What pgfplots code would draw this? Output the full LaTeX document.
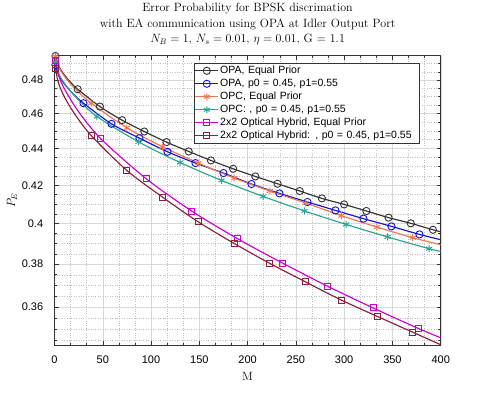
\documentclass[border=0pt]{standalone}
\usepackage{fontspec}
\usepackage{pgfplots}
\pgfplotsset{compat=1.18}
\newfontfamily\arialf{Liberation Sans}

\definecolor{cOPA}{RGB}{51,51,51}
\definecolor{cOPAp}{RGB}{20,20,205}
\definecolor{cOPC}{RGB}{240,120,80}
\definecolor{cOPCp}{RGB}{45,165,145}
\definecolor{cHyb}{RGB}{204,0,204}
\definecolor{cHybp}{RGB}{140,30,64}

\tikzset{
  sOPA/.style={color=cOPA, line width=1.15pt, mark=o, mark size=3.6pt, mark options={solid, line width=0.9pt}},
  sOPAp/.style={color=cOPAp, line width=1.15pt, mark=o, mark size=3.6pt, mark options={solid, line width=0.9pt}},
  sOPC/.style={color=cOPC, line width=1.15pt, mark=asterisk, mark size=3.5pt, mark options={solid, line width=1pt}},
  sOPCp/.style={color=cOPCp, line width=1.15pt, mark=asterisk, mark size=3.5pt, mark options={solid, line width=1pt}},
  sHyb/.style={color=cHyb, line width=1.15pt, mark=square, mark size=3pt, mark options={solid, line width=0.9pt}},
  sHybp/.style={color=cHybp, line width=1.15pt, mark=square, mark size=3pt, mark options={solid, line width=0.9pt}},
}

\begin{document}
\begin{tikzpicture}
\useasboundingbox (0,0) rectangle (479pt,394pt);
\begin{axis}[
  at={(54.5pt,49pt)}, anchor=south west,
  scale only axis, width=386.2pt, height=289.5pt,
  xmin=0, xmax=400, ymode=log, ymin=0.3430, ymax=0.4951,
  xtick={0,50,...,400}, minor x tick num=2,
  ytick={0.36,0.38,0.4,0.42,0.44,0.46,0.48},
  yticklabels={0.36,0.38,0.4,0.42,0.44,0.46,0.48},
  minor ytick={0.345,0.35,0.355,0.365,0.37,0.375,0.385,0.39,0.395,0.405,0.41,0.415,0.425,0.43,0.435,0.445,0.45,0.455,0.465,0.47,0.475,0.485,0.49},
  /pgf/number format/assume math mode=true,
  tick label style={font=\arialf\fontsize{11}{13}\selectfont},
  xticklabel style={yshift=-7.3pt},
  yticklabel style={xshift=-7.8pt},
  tick align=inside, major tick length=4pt, minor tick length=2.5pt,
  tick style={draw=black!80, line width=0.5pt},
  axis line style={draw=black!80, line width=0.5pt},
  grid=both,
  major grid style={draw=black!15, line width=0.4pt},
  minor grid style={draw=black!25, dotted, line width=0.4pt},
  title={Error Probability for BPSK discrimation\\with EA communication using OPA at Idler Output Port\\$N_B = 1$, $N_s = 0.01$, $\eta = 0.01$, G $=$ 1.1},
  title style={at={(0.5,1)}, anchor=south, inner sep=0pt, yshift=4pt, align=center, font=\fontsize{12}{15.5}\selectfont},
  xlabel={M},
  xlabel style={at={(axis description cs:0.5,-0.0922)}, anchor=north, inner sep=0pt, font=\fontsize{12}{14}\selectfont},
  ylabel={$P_E$},
  ylabel style={at={(axis description cs:-0.110,0.5)}, anchor=center, inner sep=0pt, font=\fontsize{12}{14}\selectfont},
  legend image code/.code={\draw[mark repeat=2,mark phase=2,#1] plot coordinates {(0cm,0cm) (0.4cm,0cm) (0.8cm,0cm)};},
  legend cell align=left,
  legend style={at={(0.9438,0.974)}, anchor=north east, draw=black!80, fill=white, line width=0.5pt,
    font=\arialf\fontsize{10.5}{12}\selectfont, inner sep=1pt, row sep=0pt,
    nodes={inner sep=1.5pt, text height=7.8pt, text depth=2.2pt, text width=196pt}},
]
% OPA, equal prior
\addplot[sOPA, mark=none, smooth, forget plot] coordinates {(1,0.4948)(4,0.4888)(10,0.4832)(16,0.4790)(24,0.47438)(47,0.46405)(70,0.45613)(93,0.44960)(116,0.44361)(139,0.43836)(162,0.43339)(185,0.42886)(208,0.42471)(231,0.42080)(254,0.41693)(277,0.41304)(300,0.40991)(323,0.40651)(346,0.40307)(369,0.40018)(392,0.39700)(400,0.3960)};
\addplot[sOPA, only marks, forget plot] coordinates {(1,0.4948)(24,0.47438)(47,0.46405)(70,0.45613)(93,0.44960)(116,0.44361)(139,0.43836)(162,0.43339)(185,0.42886)(208,0.42471)(231,0.42080)(254,0.41693)(277,0.41304)(300,0.40991)(323,0.40651)(346,0.40307)(369,0.40018)(392,0.39700)};
% OPA, p0 = 0.45
\addplot[sOPAp, mark=none, smooth, forget plot] coordinates {(1,0.4892)(4,0.4833)(10,0.4777)(19,0.4718)(30,0.46605)(59,0.45400)(88,0.44586)(117,0.43819)(146,0.43197)(175,0.42654)(204,0.42064)(233,0.41567)(262,0.41116)(291,0.40681)(320,0.40256)(349,0.39866)(378,0.39464)(400,0.39200)};
\addplot[sOPAp, only marks, forget plot] coordinates {(1,0.4892)(30,0.46605)(59,0.45400)(88,0.44586)(117,0.43819)(146,0.43197)(175,0.42654)(204,0.42064)(233,0.41567)(262,0.41116)(291,0.40681)(320,0.40256)(349,0.39866)(378,0.39464)};
% OPC, equal prior
\addplot[sOPC, mark=none, smooth, forget plot] coordinates {(1,0.4946)(4,0.4883)(10,0.4824)(20,0.4755)(38,0.46605)(75,0.45171)(112,0.44097)(149,0.43197)(186,0.42384)(223,0.41693)(260,0.41064)(297,0.40410)(334,0.39836)(371,0.39299)(400,0.38953)};
\addplot[sOPC, only marks, forget plot] coordinates {(1,0.4946)(38,0.46605)(75,0.45171)(112,0.44097)(149,0.43197)(186,0.42384)(223,0.41693)(260,0.41064)(297,0.40410)(334,0.39836)(371,0.39299)};
% OPC, p0 = 0.45
\addplot[sOPCp, mark=none, smooth, forget plot] coordinates {(1,0.4911)(4,0.4844)(10,0.4782)(22,0.4697)(44,0.45821)(87,0.44377)(130,0.43230)(173,0.42256)(216,0.41409)(259,0.40651)(302,0.39967)(345,0.39334)(388,0.38756)(400,0.38624)};
\addplot[sOPCp, only marks, forget plot] coordinates {(1,0.4911)(44,0.45821)(87,0.44377)(130,0.43230)(173,0.42256)(216,0.41409)(259,0.40651)(302,0.39967)(345,0.39334)(388,0.38756)};
% 2x2 optical hybrid, equal prior
\addplot[sHyb, mark=none, smooth, forget plot] coordinates {(1,0.4923)(4,0.4833)(10,0.4749)(24,0.4618)(48,0.44546)(95,0.42347)(142,0.40651)(189,0.39264)(236,0.38061)(283,0.36950)(330,0.35953)(377,0.35024)(400,0.34614)};
\addplot[sHyb, only marks, forget plot] coordinates {(1,0.4923)(48,0.44546)(95,0.42347)(142,0.40651)(189,0.39264)(236,0.38061)(283,0.36950)(330,0.35953)(377,0.35024)};
% 2x2 optical hybrid, p0 = 0.45
\addplot[sHybp, mark=none, smooth, forget plot] coordinates {(1,0.48716)(4,0.4783)(10,0.4701)(20,0.4605)(38,0.44732)(75,0.42794)(112,0.41367)(149,0.40089)(186,0.39017)(223,0.38041)(260,0.37156)(297,0.36310)(334,0.35573)(371,0.34860)(400,0.3431)};
\addplot[sHybp, only marks, forget plot] coordinates {(1,0.48716)(38,0.44732)(75,0.42794)(112,0.41367)(149,0.40089)(186,0.39017)(223,0.38041)(260,0.37156)(297,0.36310)(334,0.35573)(371,0.34860)};

\addlegendimage{sOPA}\addlegendentry{OPA, Equal Prior}
\addlegendimage{sOPAp}\addlegendentry{OPA, p0 = 0.45, p1=0.55}
\addlegendimage{sOPC}\addlegendentry{OPC, Equal Prior}
\addlegendimage{sOPCp}\addlegendentry{OPC: , p0 = 0.45, p1=0.55}
\addlegendimage{sHyb}\addlegendentry{2x2 Optical Hybrid, Equal Prior}
\addlegendimage{sHybp}\addlegendentry{2x2 Optical Hybrid: , p0 = 0.45, p1=0.55}
\end{axis}
\end{tikzpicture}
\end{document}
